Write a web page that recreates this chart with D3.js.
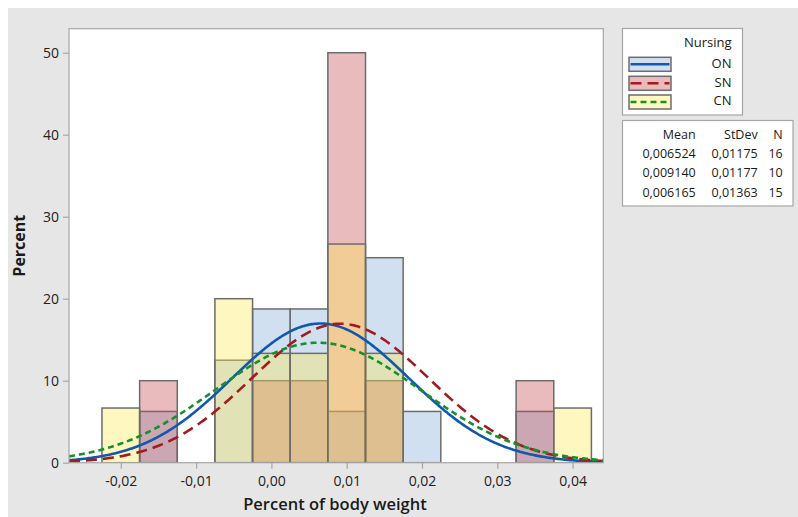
<!DOCTYPE html>
<html>
<head>
<meta charset="utf-8">
<script src="https://cdn.jsdelivr.net/npm/d3@7"></script>
<style>
  html, body { margin: 0; padding: 0; background: #ffffff; }
  svg { display: block; font-family: "Open Sans", "Noto Sans", sans-serif; }
</style>
</head>
<body>
<svg id="chart" width="798" height="517"></svg>
<script>
// Histogram bins (centre of each bin, width 0.005)
const binCenters = [-0.02, -0.015, -0.01, -0.005, 0.0, 0.005, 0.01, 0.015, 0.02, 0.025, 0.03, 0.035, 0.04];
const binWidth = 0.005;

// Percent of each group in every bin
const groups = ["ON", "SN", "CN"];
const onPercent = [0, 6.25, 0, 12.5, 18.75, 18.75, 6.25, 25, 6.25, 0, 0, 6.25, 0];
const snPercent = [0, 10, 0, 0, 10, 10, 50, 10, 0, 0, 0, 10, 0];
const cnPercent = [6.667, 0, 0, 20, 13.333, 13.333, 26.667, 13.333, 0, 0, 0, 0, 6.667];

// Summary statistics per group
const means = [0.006524, 0.009140, 0.006165];
const stdevs = [0.01175, 0.01177, 0.01363];
const counts = [16, 10, 15];
const meanLabels = ["0,006524", "0,009140", "0,006165"];
const stdevLabels = ["0,01175", "0,01177", "0,01363"];

// Axis ticks
const xTicks = [-0.02, -0.01, 0.0, 0.01, 0.02, 0.03, 0.04];
const yTicks = [0, 10, 20, 30, 40, 50];

const percents = [onPercent, snPercent, cnPercent];
const fillColors = ["rgb(128,171,214)", "rgb(196,71,77)", "rgb(255,233,85)"];
const fillAlpha = 0.37;
const lineColors = ["#1158ae", "#a31a1f", "#16912a"];
const lineDash = [null, "11,6", "6,4"];

const locale = d3.formatLocale({ decimal: ",", thousands: ".", grouping: [3], currency: ["", ""], minus: "-" });
const fmtX = locale.format(".2f");

const svg = d3.select("#chart");
const W = 798, H = 517;

// figure background
svg.append("rect").attr("x", 8).attr("y", 8).attr("width", W - 8).attr("height", H - 8).attr("fill", "#e6e6e6");

const plot = { left: 69, top: 28.7, right: 603.3, bottom: 462.7 };

const x = d3.scaleLinear().domain([-0.02688, 0.04408]).range([plot.left, plot.right]);
const y = d3.scaleLinear().domain([0, 52.93]).range([plot.bottom, plot.top]);

// plot area
svg.append("rect")
  .attr("x", plot.left).attr("y", plot.top)
  .attr("width", plot.right - plot.left).attr("height", plot.bottom - plot.top)
  .attr("fill", "#ffffff");

svg.append("clipPath").attr("id", "plotclip").append("rect")
  .attr("x", plot.left).attr("y", plot.top)
  .attr("width", plot.right - plot.left).attr("height", plot.bottom - plot.top);

const g = svg.append("g").attr("clip-path", "url(#plotclip)");

// histogram bars, one layer per group
groups.forEach((name, gi) => {
  const data = binCenters.map((c, i) => ({ c, v: percents[gi][i] })).filter(d => d.v > 0);
  g.append("g").selectAll("rect").data(data).join("rect")
    .attr("x", d => x(d.c - binWidth / 2))
    .attr("width", d => x(d.c + binWidth / 2) - x(d.c - binWidth / 2))
    .attr("y", d => y(d.v))
    .attr("height", d => y(0) - y(d.v))
    .attr("fill", fillColors[gi])
    .attr("fill-opacity", fillAlpha)
    .attr("stroke", "#6c6c6c")
    .attr("stroke-width", 1.5);
});

// fitted normal curves scaled to percent per bin
const xs = d3.range(0, 401).map(i => x.domain()[0] + (x.domain()[1] - x.domain()[0]) * i / 400);
groups.forEach((name, gi) => {
  const m = means[gi], s = stdevs[gi];
  const pts = xs.map(v => [v, 100 * binWidth * Math.exp(-0.5 * ((v - m) / s) ** 2) / (s * Math.sqrt(2 * Math.PI))]);
  g.append("path")
    .datum(pts)
    .attr("d", d3.line().x(d => x(d[0])).y(d => y(d[1])))
    .attr("fill", "none")
    .attr("stroke", lineColors[gi])
    .attr("stroke-width", 2.6)
    .attr("stroke-dasharray", lineDash[gi]);
});

// frame
svg.append("rect")
  .attr("x", plot.left).attr("y", plot.top)
  .attr("width", plot.right - plot.left).attr("height", plot.bottom - plot.top)
  .attr("fill", "none").attr("stroke", "#a6a6a6").attr("stroke-width", 1.2);

// axes
const xAxis = svg.append("g").attr("transform", `translate(0,${plot.bottom})`)
  .call(d3.axisBottom(x).tickValues(xTicks).tickFormat(fmtX).tickSize(6).tickPadding(7));
const yAxis = svg.append("g").attr("transform", `translate(${plot.left},0)`)
  .call(d3.axisLeft(y).tickValues(yTicks).tickSize(6).tickPadding(4));
[xAxis, yAxis].forEach(a => {
  a.select(".domain").remove();
  a.selectAll(".tick line").attr("stroke", "#a6a6a6").attr("stroke-width", 1.2);
  a.selectAll(".tick text").attr("fill", "#222222").style("font-size", "14px")
    .style("font-family", "\"Open Sans\", \"Noto Sans\", sans-serif");
});

// axis titles
svg.append("text")
  .attr("x", 335).attr("y", 505.5)
  .attr("text-anchor", "middle").attr("dominant-baseline", "middle")
  .attr("fill", "#1a1a1a").style("font-size", "16.5px").style("font-weight", 600)
  .text("Percent of body weight");
svg.append("text")
  .attr("transform", `translate(21,${(plot.top + plot.bottom) / 2}) rotate(-90)`)
  .attr("text-anchor", "middle").attr("dominant-baseline", "middle")
  .attr("fill", "#1a1a1a").style("font-size", "16px").style("font-weight", 700)
  .text("Percent");

// legend
const leg = svg.append("g");
leg.append("rect").attr("x", 622.5).attr("y", 28.5).attr("width", 120).attr("height", 86.5)
  .attr("fill", "#ffffff").attr("stroke", "#a6a6a6").attr("stroke-width", 1.2);
leg.append("text").attr("x", 731.5).attr("y", 44).attr("text-anchor", "end").attr("dominant-baseline", "middle")
  .attr("fill", "#1a1a1a").style("font-size", "13px").text("Nursing");
const legY = [64.3, 83.3, 102];
groups.forEach((name, gi) => {
  const row = leg.append("g");
  row.append("rect").attr("x", 629).attr("y", legY[gi] - 7).attr("width", 42).attr("height", 14)
    .attr("fill", fillColors[gi]).attr("fill-opacity", fillAlpha)
    .attr("stroke", "#6c6c6c").attr("stroke-width", 1.5);
  row.append("line").attr("x1", 630.5).attr("x2", 669.5).attr("y1", legY[gi]).attr("y2", legY[gi])
    .attr("stroke", lineColors[gi]).attr("stroke-width", 2.6).attr("stroke-dasharray", lineDash[gi]);
  row.append("text").attr("x", 731.5).attr("y", legY[gi]).attr("text-anchor", "end").attr("dominant-baseline", "middle")
    .attr("fill", "#1a1a1a").style("font-size", "13px").text(name);
});

// statistics table
const tab = svg.append("g");
tab.append("rect").attr("x", 622.5).attr("y", 120.5).attr("width", 170.5).attr("height", 85.5)
  .attr("fill", "#ffffff").attr("stroke", "#a6a6a6").attr("stroke-width", 1.2);
const colX = [695.7, 757.7, 782.7];
const headers = ["Mean", "StDev", "N"];
headers.forEach((h, i) => {
  tab.append("text").attr("x", colX[i]).attr("y", 135.7).attr("text-anchor", "end").attr("dominant-baseline", "middle")
    .attr("fill", "#1a1a1a").style("font-size", "12.5px").text(h);
});
const rowY = [155, 174, 193.3];
groups.forEach((name, gi) => {
  [meanLabels[gi], stdevLabels[gi], String(counts[gi])].forEach((t, i) => {
    tab.append("text").attr("x", colX[i]).attr("y", rowY[gi]).attr("text-anchor", "end").attr("dominant-baseline", "middle")
      .attr("fill", "#1a1a1a").style("font-size", "12.5px").text(t);
  });
});
</script>
</body>
</html>
